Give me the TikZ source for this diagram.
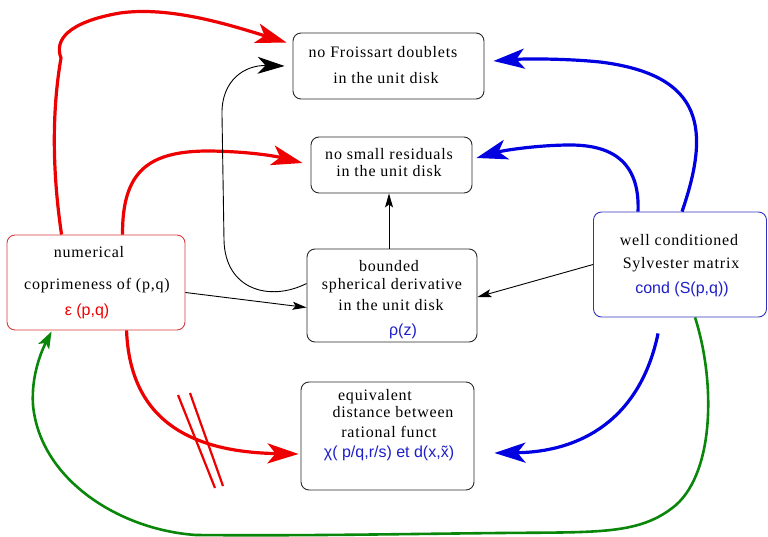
\documentclass[tikz,border=0pt]{standalone}
\usepackage{fontspec}
\usetikzlibrary{arrows.meta}
\newfontfamily\serifbox[LetterSpace=5]{Liberation Serif}
\newfontfamily\sansbox{Liberation Sans}
\definecolor{myred}{RGB}{238,0,0}
\definecolor{myblue}{RGB}{0,0,225}
\definecolor{mygreen}{RGB}{10,135,10}
\definecolor{txtblue}{RGB}{30,30,200}
\definecolor{boxgray}{RGB}{40,40,40}
\definecolor{lftborder}{RGB}{215,60,60}
\definecolor{rgtborder}{RGB}{50,50,190}
\tikzset{
  box/.style={draw=boxgray, line width=0.9pt, rounded corners=8pt, inner sep=0pt, rectangle},
  txt/.style={inner sep=0pt, anchor=base, font=\serifbox\fontsize{16}{19}\selectfont},
  ctxt/.style={inner sep=0pt, anchor=base, font=\sansbox\fontsize{16}{19}\selectfont},
  redarr/.style={draw=myred, line width=3.2pt, -{Stealth[length=31pt,width=20pt,inset=8pt]}},
  bluearr/.style={draw=myblue, line width=3.2pt, -{Stealth[length=31pt,width=20pt,inset=8pt]}},
  greenarr/.style={draw=mygreen, line width=2.6pt, -{Stealth[length=17pt,width=12pt,inset=4pt]}},
  blackarr/.style={draw=black, line width=0.9pt, -{Stealth[length=14pt,width=8pt,inset=3pt]}},
  bigblackarr/.style={draw=black, line width=0.9pt, -{Stealth[length=27pt,width=17pt,inset=8pt]}},
  strike/.style={draw=myred, line width=2.2pt}
}
\begin{document}
\begin{tikzpicture}[x=1pt,y=-1pt]
\useasboundingbox (0,0) rectangle (768,537);
% boxes
\node[box, minimum width=191pt, minimum height=66pt] (fro) at (388.5,66) {};
\node[box, minimum width=161pt, minimum height=56pt] (res) at (391.5,165) {};
\node[box, minimum width=170pt, minimum height=93pt] (bnd) at (392,295.5) {};
\node[box, minimum width=173pt, minimum height=108pt] (eqv) at (387.5,436) {};
\node[box, draw=lftborder, minimum width=178pt, minimum height=95pt] (lft) at (96,282.5) {};
\node[box, draw=rgtborder, minimum width=173pt, minimum height=105pt] (rgt) at (680,264.5) {};
% texts
\node[txt] (f1) at (383,58) {no Froissart doublets};
\node[txt] (f2) at (386,84) {in the unit disk};
\node[txt] (r1) at (389,160) {no small residuals};
\node[txt] (r2) at (389,177) {in the unit disk};
\node[txt] (b1) at (389,272) {bounded};
\node[txt] (b2) at (392,290) {spherical derivative};
\node[txt] (b3) at (391,310) {in the unit disk};
\node[ctxt, text=txtblue] (b4) at (403,335) {ρ(z)};
\node[txt] (l1) at (89,258) {numerical};
\node[txt] (l2) at (97,290) {coprimeness of (p,q)};
\node[ctxt, text=myred] (l3) at (87,315) {ε (p,q)};
\node[txt] (g1) at (679,246) {well conditioned};
\node[txt] (g2) at (681,269) {Sylvester matrix};
\node[ctxt, text=txtblue] (g3) at (682,294) {cond (S(p,q))};
\node[txt] (e1) at (375,400) {equivalent};
\node[txt] (e2) at (393,417) {distance between};
\node[txt] (e3) at (389,437) {rational funct};
\node[ctxt, text=txtblue] (e4) at (389,457) {χ( p/q,r/s) et d(x,\~{x})};
% red connectors
\draw[redarr] ([xshift=55pt]lft.north west) .. controls (52,170) and (52,110) .. (61,58)
  .. controls (54,40) and (68,22) .. (120,13)
  .. controls (170,6) and (230,25) .. ([xshift=-6pt,yshift=-10pt]fro.north west);
\draw[redarr] ([xshift=116pt]lft.north west) .. controls (122,170) and (150,152) .. (205,151)
  .. controls (245,151) and (275,156) .. ([xshift=-8pt,yshift=2pt]res.west);
\draw[redarr] ([xshift=120pt]lft.south west) .. controls (130,420) and (190,452) .. ([xshift=-2pt,yshift=-18pt]eqv.west);
\draw[strike] (178,395) -- (215,488);
\draw[strike] (190,393) -- (223,486);
% blue connectors
\draw[bluearr] ([xshift=89pt]rgt.north west) .. controls (710,130) and (705,75) .. (600,62)
  .. controls (560,58) and (520,59) .. ([xshift=9pt,yshift=5pt]fro.east);
\draw[bluearr] ([xshift=45pt]rgt.north west) .. controls (640,160) and (610,145) .. (570,145)
  .. controls (540,145) and (505,150) .. ([xshift=4pt,yshift=7pt]res.east);
\draw[bluearr] ([xshift=65pt,yshift=-16pt]rgt.south west) .. controls (640,420) and (580,452) .. ([xshift=20pt,yshift=-17pt]eqv.east);
% green connector
\draw[greenarr] ([xshift=102pt]rgt.south west) .. controls (715,380) and (715,470) .. (676,505)
  .. controls (640,535) and (600,532) .. (500,533)
  .. controls (400,534) and (300,536) .. (196,535)
  .. controls (120,530) and (40,480) .. (33,405)
  .. controls (31,375) and (42,350) .. ([xshift=45pt,yshift=-1pt]lft.south west);
% black connectors
\draw[blackarr] ([yshift=-10pt]lft.east) -- ([yshift=-12pt]bnd.west);
\draw[blackarr] (rgt.west) -- ([yshift=-1.5pt]bnd.east);
\draw[blackarr] ([xshift=-3pt]bnd.north) -- ([xshift=-3pt]bnd.north |- res.south);
\draw[bigblackarr] ([yshift=12pt]bnd.west) .. controls (270,302) and (225,290) .. (224,240)
  -- (222,115) .. controls (221,80) and (245,65) .. ([xshift=-8pt]fro.west);
\end{tikzpicture}
\end{document}
